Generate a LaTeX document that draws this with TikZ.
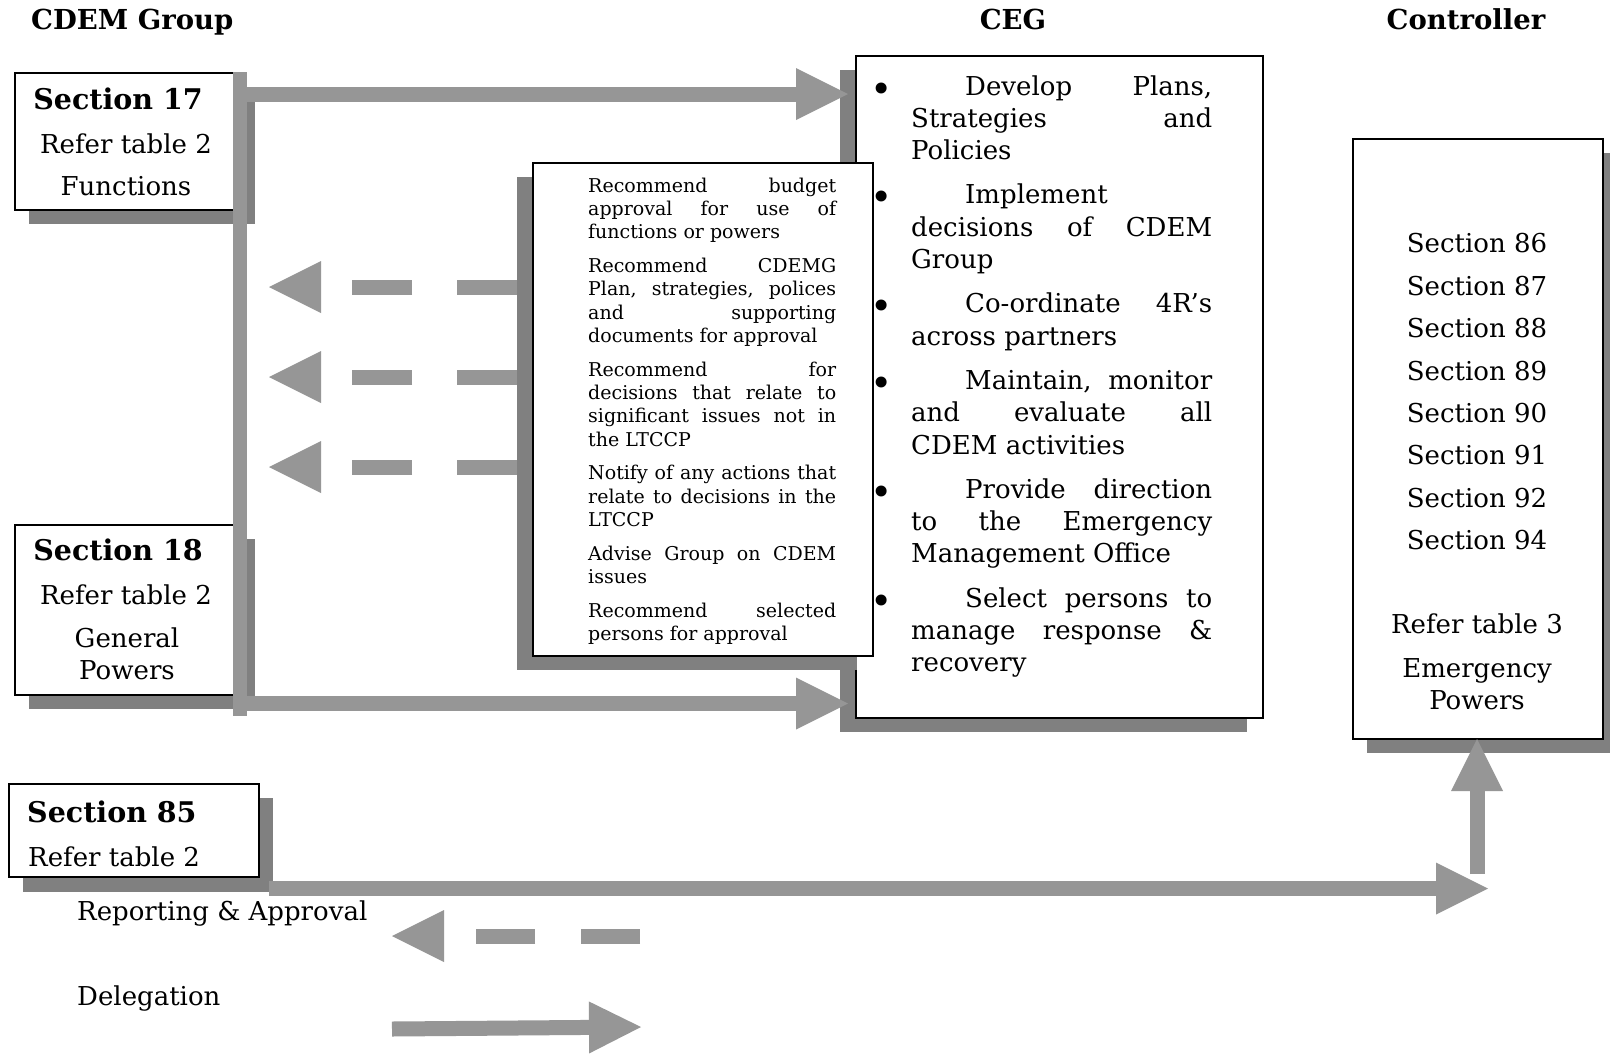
\documentclass[tikz,border=0pt]{standalone}
\usepackage{fontspec}
\setmainfont{DejaVu Serif}
\usetikzlibrary{arrows.meta}
\definecolor{barc}{RGB}{150,150,150}
\definecolor{shd}{RGB}{128,128,128}
\newcommand\JLine[1]{\hbox to \hsize{\spaceskip=.3em plus 1fil minus .08em\relax #1}}
\newcommand\LLine[1]{\hbox to \hsize{#1\hfil}}
\newcommand\cegbul{\llap{\makebox[0pt]{\raisebox{-7pt}{\scalebox{1.45}{\textbullet}}}\hspace{30pt}}}
\begin{document}
\begin{tikzpicture}[x=1pt,y=-1pt,
  box/.style={draw=black, fill=white, line width=1.5pt, inner sep=0pt, anchor=north west},
  shadowfill/.style={fill=shd},
  txt/.style={inner sep=0pt, anchor=base, font=\fontsize{26}{32}\selectfont},
  txtb/.style={txt, font=\fontsize{28.5}{32}\selectfont\bfseries},
  hd/.style={txt, font=\fontsize{27.5}{32}\selectfont\bfseries},
  barline/.style={draw=barc, line width=14pt},
  barrow/.style={draw=barc, line width=15pt, -{Triangle[length=52pt,width=52pt,line width=0pt]}},
  dasharrow/.style={barrow, dash pattern=on 75pt off 45pt on 60pt off 45pt}]
\fill[white] (0,0) rectangle (1610,1053);
\useasboundingbox (0,0) rectangle (1610,1053);

% headings
\node[hd, anchor=base west] (h1) at (31,29) {CDEM Group};
\node[hd] (h2) at (1013,29) {CEG};
\node[hd] (h3) at (1466,29) {Controller};

% Section 17
\fill[shadowfill] (29,87) rectangle (255,224);
\node[box, minimum width=226pt, minimum height=137pt] (s17) at (14,72) {};
\node[txtb] (s17a) at (118,109) {Section 17};
\node[txt] (s17b) at (126,153) {Refer table 2};
\node[txt] (s17c) at (126,195) {Functions};

% Section 18
\fill[shadowfill] (29,539) rectangle (255,709);
\node[box, minimum width=226pt, minimum height=170pt] (s18) at (14,524) {};
\node[txtb] (s18a) at (118,560) {Section 18};
\node[txt] (s18b) at (126,604) {Refer table 2};
\node[txt] (s18c) at (127,647) {General};
\node[txt] (s18d) at (127,679) {Powers};

% CEG box
\fill[shadowfill] (840,70) rectangle (1247,732);
\node[box, minimum width=407pt, minimum height=662pt] (ceg) at (855,55) {};
\node[anchor=base west, inner sep=0pt, font=\fontsize{26}{32.3}\selectfont] (cegtxt) at (911,95) {\vtop{\hsize=301pt\frenchspacing
\JLine{\cegbul\hspace*{54pt}Develop Plans,}
\JLine{Strategies and}
\LLine{Policies}
\vskip12pt
\LLine{\cegbul\hspace*{54pt}Implement}
\JLine{decisions of CDEM}
\LLine{Group}
\vskip12pt
\JLine{\cegbul\hspace*{54pt}Co-ordinate 4R’s}
\LLine{across partners}
\vskip12pt
\JLine{\cegbul\hspace*{54pt}Maintain, monitor}
\JLine{and evaluate all}
\LLine{CDEM activities}
\vskip12pt
\JLine{\cegbul\hspace*{54pt}Provide direction}
\JLine{to the Emergency}
\LLine{Management Office}
\vskip12pt
\JLine{\cegbul\hspace*{54pt}Select persons to}
\JLine{manage response \&}
\LLine{recovery}}};

% connectors from CDEM group
\coordinate (btop) at (240,72);
\coordinate (bbot) at (240,716);
\coordinate (a1s) at (240,94);
\coordinate (a1e) at (848,94);
\coordinate (a2s) at (240,703.5);
\coordinate (a2e) at (848,703.5);
\draw[barrow] (a1s) -- (a1e);
\draw[barrow] (a2s) -- (a2e);
\draw[barline] (btop) -- (bbot);

% dashed arrows (reporting)
\coordinate (d1s) at (532,287);
\coordinate (d1e) at (269,287);
\coordinate (d2s) at (532,377);
\coordinate (d2e) at (269,377);
\coordinate (d3s) at (532,467);
\coordinate (d3e) at (269,467);
\draw[dasharrow] (d1s) -- (d1e);
\draw[dasharrow] (d2s) -- (d2e);
\draw[dasharrow] (d3s) -- (d3e);

% middle box
\fill[shadowfill] (517,177) rectangle (857,670);
\node[box, minimum width=340pt, minimum height=493pt] (mid) at (532,162) {};
\node[anchor=base west, inner sep=0pt, font=\fontsize{19}{23.3}\selectfont] (midtxt) at (588,192) {\vtop{\hsize=248pt\frenchspacing
\JLine{Recommend budget}
\JLine{approval for use of}
\LLine{functions or powers}
\vskip10.5pt
\JLine{Recommend CDEMG}
\JLine{Plan, strategies, polices}
\JLine{and supporting}
\LLine{documents for approval}
\vskip10.5pt
\JLine{Recommend for}
\JLine{decisions that relate to}
\JLine{significant issues not in}
\LLine{the LTCCP}
\vskip10.5pt
\JLine{Notify of any actions that}
\JLine{relate to decisions in the}
\LLine{LTCCP}
\vskip10.5pt
\JLine{Advise Group on CDEM}
\LLine{issues}
\vskip10.5pt
\JLine{Recommend selected}
\LLine{persons for approval}}};

% Controller
\fill[shadowfill] (1367,153) rectangle (1610,753);
\node[box, minimum width=250pt, minimum height=600pt] (ctrl) at (1352,138) {};
\node[txt] (c1) at (1477,252) {Section 86};
\node[txt] (c2) at (1477,295) {Section 87};
\node[txt] (c3) at (1477,337) {Section 88};
\node[txt] (c4) at (1477,380) {Section 89};
\node[txt] (c5) at (1477,422) {Section 90};
\node[txt] (c6) at (1477,464) {Section 91};
\node[txt] (c7) at (1477,507) {Section 92};
\node[txt] (c8) at (1477,549) {Section 94};
\node[txt] (c9) at (1477,633) {Refer table 3};
\node[txt] (c10) at (1477,677) {Emergency};
\node[txt] (c11) at (1477,709) {Powers};

% Section 85
\fill[shadowfill] (23,798) rectangle (273,892);
\node[box, minimum width=250pt, minimum height=93pt] (s85) at (8,783) {};
\node[txtb, anchor=base west] (s85a) at (27,822) {Section 85};
\node[txt, anchor=base west] (s85b) at (28,866) {Refer table 2};

% delegation to controller
\coordinate (e1s) at (269,888.5);
\coordinate (e1e) at (1488,888.5);
\coordinate (e2s) at (1477,874);
\coordinate (e2e) at (1477,739);
\draw[barrow] (e1s) -- (e1e);
\draw[barrow] (e2s) -- (e2e);

% legend
\node[txt, anchor=base west] (lg1) at (77,920) {Reporting \& Approval};
\node[txt, anchor=base west] (lg2) at (77,1005) {Delegation};
\coordinate (r1s) at (640,936);
\coordinate (r1e) at (392,936);
\draw[barrow, dash pattern=on 59pt off 46pt] (r1s) -- (r1e);
\coordinate (g1s) at (392,1029);
\coordinate (g1e) at (641,1027);
\draw[barrow] (g1s) -- (g1e);
\end{tikzpicture}
\end{document}
